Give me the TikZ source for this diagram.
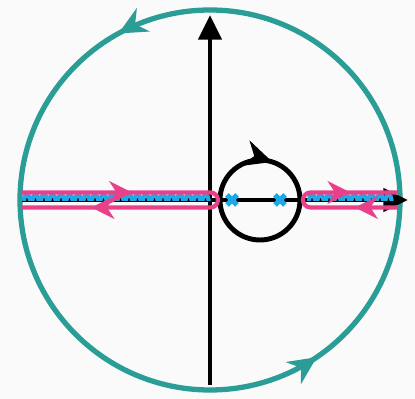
\documentclass[tikz,border=0pt]{standalone}
\usepackage{tikz}
\usepackage{xcolor}
\usetikzlibrary{arrows.meta,decorations.markings}
\definecolor{contour}{HTML}{2A9D96}
\definecolor{hairpin}{HTML}{E8418A}
\definecolor{cutblue}{HTML}{1BA9E8}
\tikzset{
  axis/.style={line width=2.8pt,-{Triangle[length=14pt,width=13pt]}},
  bigcirc/.style={contour,line width=3pt},
  keyhole/.style={hairpin,line width=2.4pt,line join=round},
  bump/.style={cutblue,line width=2.4pt},
  pole/.style={cutblue,line width=3pt},
  midarrow/.style={postaction={decorate,decoration={markings,
    mark=at position #1 with {\arrow{Stealth[length=16pt,width=15pt]}}}}},
  pinkarrow/.style={postaction={decorate,decoration={markings,
    mark=at position #1 with {\arrow{Stealth[length=13pt,width=13pt]}}}}}
}
\begin{document}
\begin{tikzpicture}[=>stealth]
\fill[gray!4](-4.2,-3.98)rectangle(4.1,4.0);
\useasboundingbox(-4.2,-3.98)rectangle(4.1,4.0);
\coordinate (O) at (0,0);
\coordinate (c) at (1,0);
% large contour, counterclockwise
\draw[bigcirc,midarrow=0.33,midarrow=0.845](3.8,0)arc[start angle=0,end angle=360,radius=3.8];
% axes
\draw[axis](0,-3.7)--(0,3.7);
\draw[axis](-3.76,0)--(3.96,0);
% branch cuts
\foreach \x in {-3.66,-3.49,...,0.0}
  \draw[bump](\x-0.06,-0.02)--(\x-0.06,0)arc[start angle=180,end angle=0,x radius=0.06,y radius=0.1]--(\x+0.06,-0.02);
\foreach \x in {2.04,2.21,...,3.6}
  \draw[bump](\x-0.06,-0.02)--(\x-0.06,0)arc[start angle=180,end angle=0,x radius=0.06,y radius=0.1]--(\x+0.06,-0.02);
% small contour, clockwise
\draw[line width=2.8pt,midarrow=0.30](0.2,0)arc[start angle=180,end angle=-180,radius=0.8];
% poles
\foreach \x in {0.44,1.4}{
\draw[pole](\x-0.1,-0.1)--(\x+0.1,0.1) (\x-0.1,0.1)--(\x+0.1,-0.1);
}
% hairpins around the cuts
\draw[keyhole,pinkarrow=2.2cm,pinkarrow=6.62cm](-3.76,0.15)--(0.01,0.15)arc[start angle=90,end angle=-90,radius=0.15]--(-3.76,-0.15);
\draw[keyhole,pinkarrow=0.84cm,pinkarrow=3.0cm](3.74,-0.15)--(2.01,-0.15)arc[start angle=270,end angle=90,radius=0.15]--(3.74,0.15);
\end{tikzpicture}
\end{document}
